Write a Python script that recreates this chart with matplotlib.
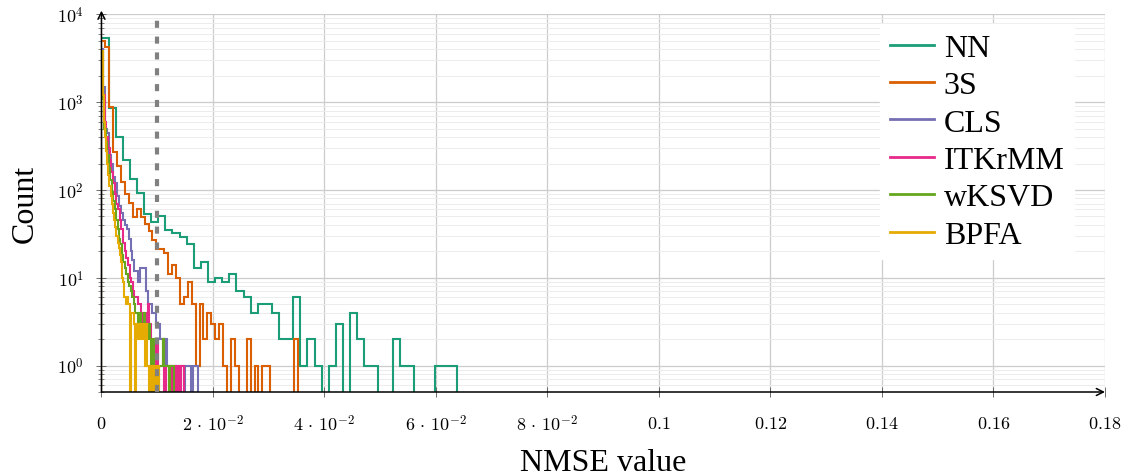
import matplotlib
matplotlib.use("Agg")
import matplotlib.pyplot as plt
import numpy as np
from matplotlib.ticker import FixedLocator, FixedFormatter, LogLocator, NullFormatter

plt.rcParams['mathtext.fontset'] = 'cm'

# metodos, cores e o maior NMSE de cada um (o histograma usa 50 bins de 0 ate o maximo)
metodos = ["NN", "3S", "CLS", "ITKrMM", "wKSVD", "BPFA"]
cores = ["#1b9e77", "#d95f02", "#7570b3", "#e7298a", "#66a61e", "#e6ab02"]
nmse_max = [0.0637, 0.0352, 0.0174, 0.0148, 0.0131, 0.0103]
n_bins = 50

# contagens (50 bins por metodo)
cont_nn = [5400, 860, 400, 218, 135, 93, 53, 43, 50, 35,
           32, 29, 24, 13, 15, 9, 10, 9, 11, 7,
           6, 4, 5, 5, 4, 2, 2, 6, 1, 2,
           1, 0, 1, 3, 0, 4, 2, 1, 1, 0,
           0, 2, 1, 1, 0, 0, 0, 1, 1, 1]
cont_3s = [5000, 4300, 880, 270, 190, 124, 90, 72, 49, 61,
           49, 41, 34, 27, 21, 21, 19, 11, 14, 10,
           5, 6, 9, 5, 1, 5, 2, 4, 3, 2,
           3, 1, 0, 2, 1, 0, 0, 2, 0, 1,
           0, 1, 1, 0, 0, 0, 0, 0, 0, 2]
cont_cls = [4000, 1500, 500, 450, 250, 200, 140, 120, 85, 65,
            55, 45, 40, 36, 28, 20, 16, 12, 12, 9,
            13, 13, 13, 7, 5, 5, 4, 4, 3, 3,
            2, 2, 1, 2, 1, 1, 0, 1, 0, 1,
            1, 0, 0, 1, 1, 1, 0, 1, 1, 1]
cont_itkrmm = [3600, 1200, 600, 400, 300, 220, 160, 120, 90, 70,
               60, 45, 36, 25, 20, 17, 14, 10, 9, 7,
               6, 6, 5, 5, 4, 3, 4, 3, 5, 3,
               2, 2, 1, 2, 0, 1, 1, 2, 0, 1,
               1, 0, 1, 0, 1, 0, 1, 0, 1, 1]
cont_wksvd = [3700, 1100, 500, 350, 250, 180, 130, 95, 75, 60,
              45, 36, 28, 24, 18, 15, 13, 11, 9, 8,
              7, 6, 5, 4, 4, 3, 4, 3, 3, 4,
              3, 2, 3, 2, 1, 2, 1, 1, 0, 1,
              1, 1, 2, 1, 1, 1, 0, 1, 1, 1]
cont_bpfa = [3800, 1200, 600, 400, 280, 200, 150, 110, 85, 70,
             55, 45, 38, 30, 25, 22, 18, 15, 10, 9,
             6, 5, 6, 5, 5, 0, 4, 4, 3, 0,
             3, 3, 2, 3, 2, 3, 3, 2, 1, 3,
             1, 0, 1, 1, 0, 1, 1, 0, 1, 1]
contagens = [cont_nn, cont_3s, cont_cls, cont_itkrmm, cont_wksvd, cont_bpfa]

x_ticks = [0, 0.02, 0.04, 0.06, 0.08, 0.1, 0.12, 0.14, 0.16, 0.18]
x_rotulos = [r"$0$", r"$2\,\cdot\,10^{-2}$", r"$4\,\cdot\,10^{-2}$", r"$6\,\cdot\,10^{-2}$",
             r"$8\,\cdot\,10^{-2}$", r"$0.1$", r"$0.12$", r"$0.14$", r"$0.16$", r"$0.18$"]
y_ticks = [1, 10, 100, 1000, 10000]
y_rotulos = [r"$10^{0}$", r"$10^{1}$", r"$10^{2}$", r"$10^{3}$", r"$10^{4}$"]
limiar = 0.01

fig = plt.figure(figsize=(11.31, 4.77), dpi=100)
ax = fig.add_axes([0.0897, 0.1761, 0.8873, 0.7916])

piso = 1e-3  # bins vazios vao ate embaixo do eixo
for nome, cor, mx, cont in zip(metodos, cores, nmse_max, contagens):
    bordas = np.linspace(0, mx, n_bins + 1)
    vals = np.array(cont, dtype=float)
    vals[vals == 0] = piso
    ax.stairs(vals, bordas, baseline=piso, color=cor, lw=1.5, label=nome)

ax.axvline(limiar, color="#808080", lw=3, ls=(0, (1.7, 2.1)), zorder=5)

ax.set_yscale("log")
ax.set_xlim(0, 0.18)
ax.set_ylim(0.5, 1e4)

ax.xaxis.set_major_locator(FixedLocator(x_ticks))
ax.xaxis.set_major_formatter(FixedFormatter(x_rotulos))
ax.yaxis.set_major_locator(FixedLocator(y_ticks))
ax.yaxis.set_major_formatter(FixedFormatter(y_rotulos))
ax.yaxis.set_minor_locator(LogLocator(base=10, subs=np.arange(2, 10)))
ax.yaxis.set_minor_formatter(NullFormatter())

ax.grid(which="major", color="#cccccc", lw=0.9)
ax.grid(which="minor", axis="y", color="#ececec", lw=0.7)
ax.set_axisbelow(True)

ax.tick_params(axis="both", which="major", direction="inout", length=7, width=0.6,
               color="#555555", labelsize=13)
ax.tick_params(axis="x", which="major", pad=12)
ax.tick_params(axis="y", which="major", pad=9)
ax.tick_params(axis="y", which="minor", direction="inout", length=4, width=0.5, color="#555555")

for lado in ["top", "right", "left", "bottom"]:
    ax.spines[lado].set_visible(False)
# eixos com seta
ax.annotate("", xy=(1.0, 0), xytext=(0, 0), xycoords="axes fraction",
            arrowprops=dict(arrowstyle="->,head_length=0.5,head_width=0.25", lw=1.1, color="black",
                            shrinkA=0, shrinkB=0))
ax.annotate("", xy=(0, 1.01), xytext=(0, 0), xycoords="axes fraction",
            arrowprops=dict(arrowstyle="->,head_length=0.5,head_width=0.25", lw=1.1, color="black",
                            shrinkA=0, shrinkB=0))

ax.set_xlabel("NMSE value", family="Liberation Serif", fontsize=23, labelpad=10)
ax.set_ylabel("Count", family="Liberation Serif", fontsize=23, labelpad=13)

leg = ax.legend(loc="upper left", bbox_to_anchor=(880 / 1131, 1 - 25 / 477),
                bbox_transform=fig.transFigure, prop={"family": "Liberation Serif", "size": 23},
                frameon=True, fancybox=False, framealpha=1, edgecolor="white",
                borderaxespad=0, borderpad=0.3, handlelength=1.4, handletextpad=0.3,
                labelspacing=0.25)
for linha in leg.get_lines():
    linha.set_linewidth(2)

fig.savefig("out.png", dpi=100)
